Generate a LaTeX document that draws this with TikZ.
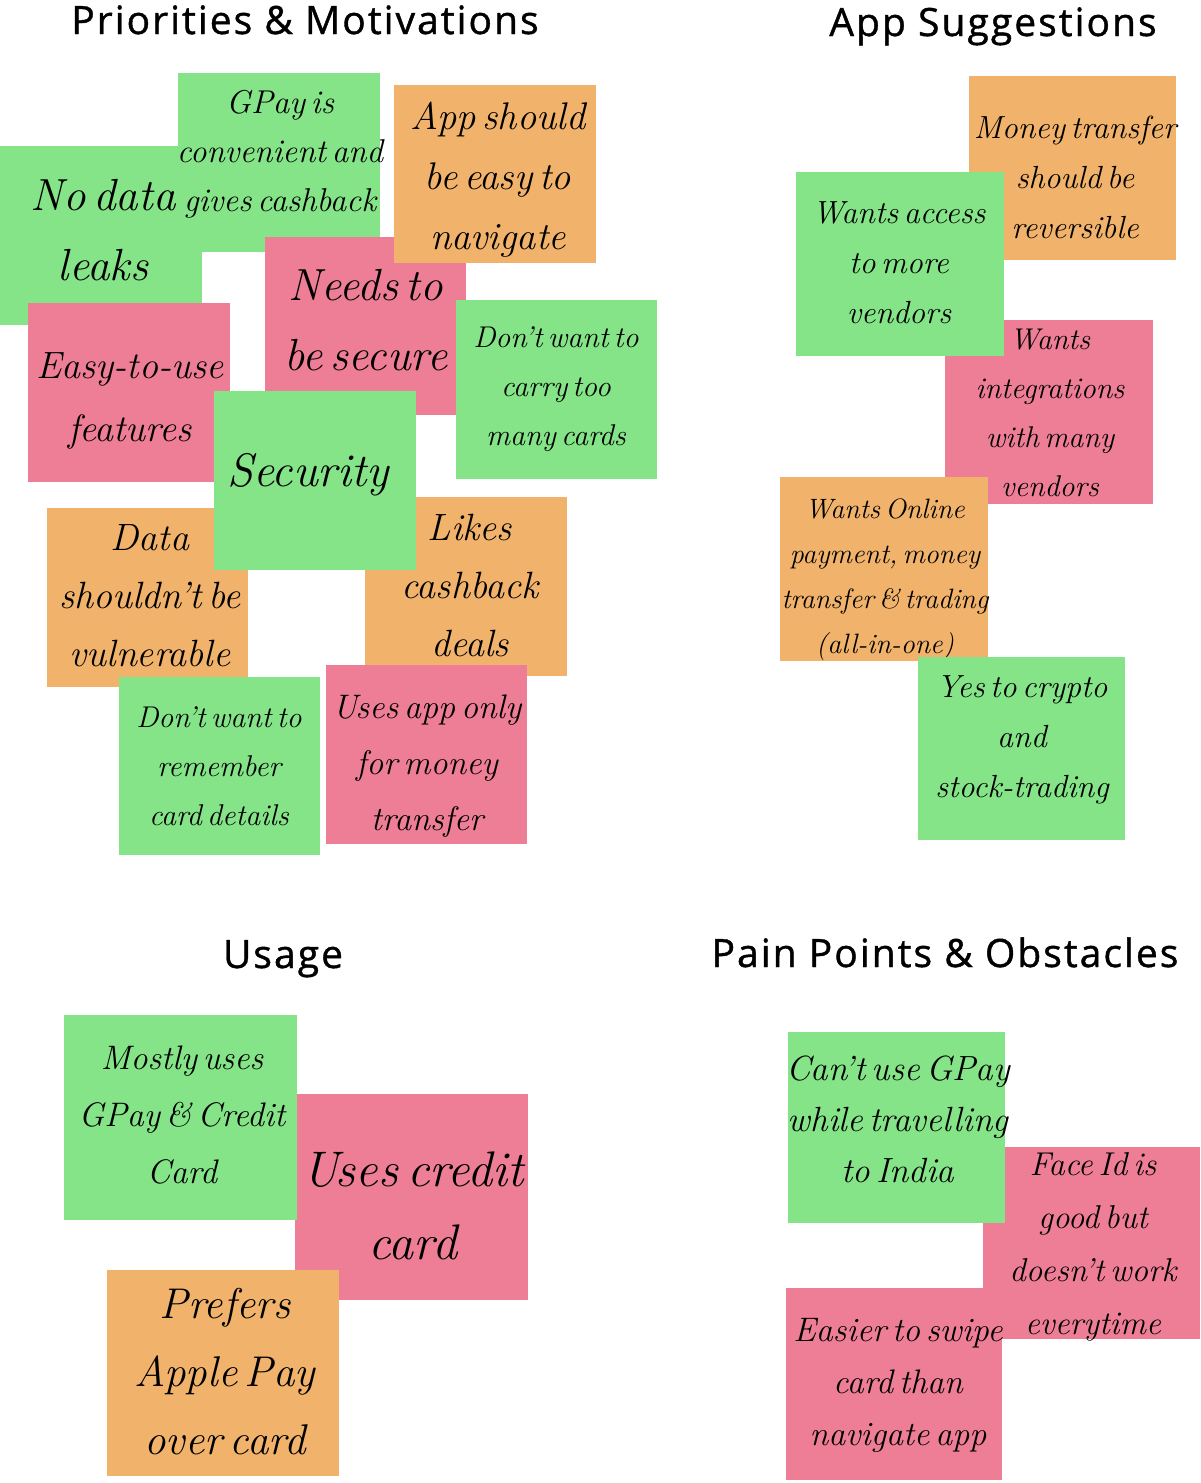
\documentclass[tikz,border=0pt]{standalone}
\usepackage{fontspec}
\newfontfamily\titlefont[LetterSpace=5.2,FakeBold=1.0]{Open Sans}
\newfontfamily\handfont[WordSpace=0.5,Ligatures=TeX]{Latin Modern Roman}
\newcommand\hand{\handfont\itshape}
\definecolor{ngreen}{HTML}{84E487}
\definecolor{norange}{HTML}{F1B36B}
\definecolor{npink}{HTML}{EE7E96}
\tikzset{
  notebox/.style={draw=none},
  notetext/.style={align=center, inner sep=0pt, text=black},
  titletext/.style={anchor=base, font={\titlefont\fontsize{39}{42}\selectfont}, inner sep=0pt}
}
\newcommand\sticky[8]{%
  \path[notebox, fill=#2] (#3) rectangle (#4);
  \node[notetext, font={\hand\fontsize{#6}{#7}\selectfont}] (#1) at (#5) {#8};
}
\begin{document}
\begin{tikzpicture}[x=1pt,y=-1pt]
\useasboundingbox (0,0) rectangle (1200,1483);
\fill[white] (0,0) rectangle (1200,1483);

% titles
\node[titletext] (t1) at (305,34) {Priorities \& Motivations};
\node[titletext] (t2) at (993,36) {App Suggestions};
\node[titletext] (t3) at (283,968) {Usage};
\node[titletext] (t4) at (945,967) {Pain Points \& Obstacles};

% Priorities & Motivations
\sticky{nodata}{ngreen}{0,146}{202,325}{103,230}{45}{70}{No data\\leaks}
\sticky{gpay}{ngreen}{178,73}{380,252}{280,154}{33}{49}{GPay is\\convenient and\\gives cashback}
\sticky{secure}{npink}{265,237}{466,415}{366,320}{45}{70}{Needs to\\be secure}
\sticky{app}{norange}{394,85}{596,263}{498,180}{38.5}{60}{App should\\be easy to\\navigate}
\sticky{carry}{ngreen}{456,300}{657,479}{556,389}{30}{49}{Don’t want to\\carry too\\many cards}
\sticky{easy}{npink}{28,303}{230,482}{130,401}{38}{63}{Easy-to-use\\features}
\sticky{likes}{norange}{365,497}{567,676}{470,585}{38}{58}{Likes\\cashback\\deals}
\sticky{data}{norange}{47,508}{248,687}{150,596}{38}{58}{Data\\shouldn’t be\\vulnerable}
\sticky{security}{ngreen}{214,391}{416,570}{308,475}{47}{60}{Security}
\sticky{remember}{ngreen}{119,677}{320,855}{219,766}{30}{49}{Don’t want to\\remember\\card details}
\sticky{usesapp}{npink}{326,665}{527,844}{427,766}{34}{56}{Uses app only\\for money\\transfer}

% App Suggestions
\sticky{money}{norange}{969,76}{1176,260}{1075,177}{32}{50}{Money transfer\\should be\\reversible}
\sticky{integ}{npink}{945,320}{1153,504}{1050,413}{30}{49}{Wants\\integrations\\with many\\vendors}
\sticky{access}{ngreen}{796,172}{1004,356}{899,263}{32}{50}{Wants access\\to more\\vendors}
\sticky{online}{norange}{780,477}{988,661}{885,580}{28}{45}{Wants Online\\payment, money\\transfer \& trading\\(all-in-one)}
\sticky{crypto}{ngreen}{918,657}{1125,840}{1022,740}{32}{50}{Yes to crypto\\and\\stock-trading}

% Usage
\sticky{credit}{npink}{295,1094}{528,1300}{413,1206}{50}{73}{Uses credit\\card}
\sticky{mostly}{ngreen}{64,1015}{297,1220}{182,1115}{34}{57}{Mostly uses\\GPay \& Credit\\Card}
\sticky{prefers}{norange}{107,1270}{339,1476}{225,1372}{43}{68}{Prefers\\Apple Pay\\over card}

% Pain Points & Obstacles
\sticky{faceid}{npink}{983,1147}{1200,1339}{1093,1247}{33}{53}{Face Id is\\good but\\doesn’t work\\everytime}
\sticky{cant}{ngreen}{788,1032}{1005,1223}{898,1119}{35}{51}{Can’t use GPay\\while travelling\\to India}
\sticky{swipe}{npink}{786,1288}{1002,1480}{898,1385}{34}{52}{Easier to swipe\\card than\\navigate app}
\end{tikzpicture}
\end{document}
